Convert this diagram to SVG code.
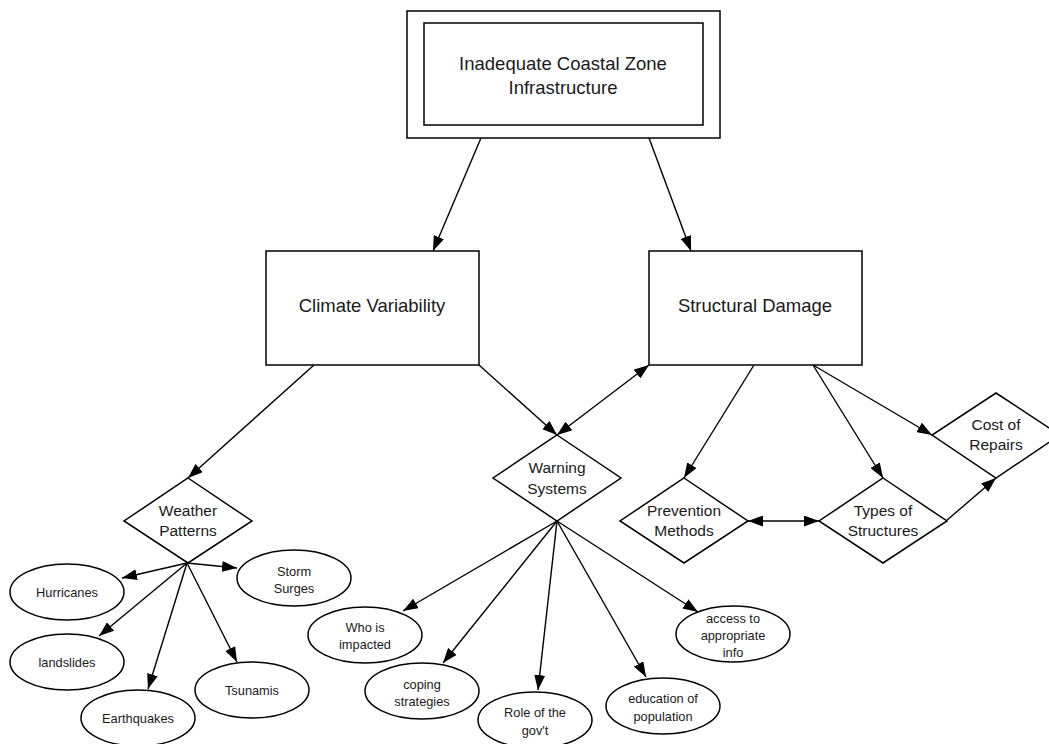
<svg xmlns="http://www.w3.org/2000/svg" width="1049" height="744" viewBox="0 0 1049 744">
<defs>
<style>
.shape{fill:#fff;stroke:#000;stroke-width:1.5}
.edge{fill:none;stroke:#000;stroke-width:1.4}
text{font-family:"Liberation Sans",Arial,sans-serif;fill:#1a1a1a;text-anchor:middle;dominant-baseline:central}
.big{font-size:18.5px}
.mid{font-size:15.5px}
.sm{font-size:12.8px}
</style>
<marker id="ah" viewBox="0 0 15 11" refX="15" refY="5.5" markerWidth="15" markerHeight="11" markerUnits="userSpaceOnUse" orient="auto-start-reverse">
<path d="M0,0 L15,5.5 L0,11 z" fill="#000"/>
</marker>
</defs>
<rect width="1049" height="744" fill="#fff"/>

<g id="connectors">
<line class="edge" x1="481" y1="138" x2="433" y2="251" marker-end="url(#ah)"/>
<line class="edge" x1="649" y1="138" x2="691" y2="251" marker-end="url(#ah)"/>
<line class="edge" x1="314" y1="365" x2="188" y2="478" marker-end="url(#ah)"/>
<line class="edge" x1="479" y1="365" x2="557" y2="435" marker-end="url(#ah)"/>
<line class="edge" x1="557" y1="435" x2="649" y2="365" marker-start="url(#ah)" marker-end="url(#ah)"/>
<line class="edge" x1="754" y1="365" x2="684" y2="478" marker-end="url(#ah)"/>
<line class="edge" x1="813" y1="365" x2="883" y2="478" marker-end="url(#ah)"/>
<line class="edge" x1="813" y1="365" x2="932" y2="435" marker-end="url(#ah)"/>
<line class="edge" x1="748" y1="521" x2="819" y2="521" marker-start="url(#ah)" marker-end="url(#ah)"/>
<line class="edge" x1="946" y1="521" x2="996" y2="478" marker-end="url(#ah)"/>
<line class="edge" x1="187" y1="563" x2="122" y2="578" marker-end="url(#ah)"/>
<line class="edge" x1="187" y1="563" x2="99" y2="636" marker-end="url(#ah)"/>
<line class="edge" x1="187" y1="563" x2="148" y2="689" marker-end="url(#ah)"/>
<line class="edge" x1="187" y1="563" x2="237" y2="662" marker-end="url(#ah)"/>
<line class="edge" x1="187" y1="563" x2="237" y2="568" marker-end="url(#ah)"/>
<line class="edge" x1="557" y1="521" x2="403" y2="611" marker-end="url(#ah)"/>
<line class="edge" x1="557" y1="521" x2="443" y2="663" marker-end="url(#ah)"/>
<line class="edge" x1="557" y1="521" x2="538" y2="690" marker-end="url(#ah)"/>
<line class="edge" x1="557" y1="521" x2="646" y2="677" marker-end="url(#ah)"/>
<line class="edge" x1="557" y1="521" x2="698" y2="612" marker-end="url(#ah)"/>
</g>

<g id="n-top">
<rect class="shape" x="407" y="11" width="313" height="127"/>
<rect class="shape" x="424" y="23" width="279" height="102"/>
<text class="big" x="563" y="63">Inadequate Coastal Zone</text>
<text class="big" x="563" y="87">Infrastructure</text>
</g>

<g id="n-climate">
<rect class="shape" x="266" y="251" width="213" height="114"/>
<text class="big" x="372" y="305">Climate Variability</text>
</g>

<g id="n-structural">
<rect class="shape" x="649" y="251" width="213" height="114"/>
<text class="big" x="755" y="305">Structural Damage</text>
</g>

<g id="n-weather">
<polygon class="shape" points="188,478 252,521 188,563 124,521"/>
<text class="mid" x="188" y="510">Weather</text>
<text class="mid" x="188" y="530">Patterns</text>
</g>

<g id="n-warning">
<polygon class="shape" points="557,435 621,478 557,521 493,478"/>
<text class="mid" x="557" y="467">Warning</text>
<text class="mid" x="557" y="488">Systems</text>
</g>

<g id="n-prevention">
<polygon class="shape" points="684,478 748,521 684,563 620,521"/>
<text class="mid" x="684" y="510">Prevention</text>
<text class="mid" x="684" y="530">Methods</text>
</g>

<g id="n-types">
<polygon class="shape" points="883,478 947,521 883,563 819,521"/>
<text class="mid" x="883" y="510">Types of</text>
<text class="mid" x="883" y="530">Structures</text>
</g>

<g id="n-cost">
<polygon class="shape" points="996,393 1060,435 996,478 932,435"/>
<text class="mid" x="996" y="424">Cost of</text>
<text class="mid" x="996" y="444">Repairs</text>
</g>

<g id="n-hurricanes">
<ellipse class="shape" cx="67" cy="592" rx="57" ry="28"/>
<text class="sm" x="67" y="592">Hurricanes</text>
</g>
<g id="n-landslides">
<ellipse class="shape" cx="67" cy="662" rx="57" ry="28"/>
<text class="sm" x="67" y="662">landslides</text>
</g>
<g id="n-earthquakes">
<ellipse class="shape" cx="138" cy="718" rx="57" ry="28"/>
<text class="sm" x="138" y="718">Earthquakes</text>
</g>
<g id="n-tsunamis">
<ellipse class="shape" cx="252" cy="690" rx="57" ry="28"/>
<text class="sm" x="252" y="690">Tsunamis</text>
</g>
<g id="n-storm">
<ellipse class="shape" cx="294" cy="578" rx="57" ry="28"/>
<text class="sm" x="294" y="571">Storm</text>
<text class="sm" x="294" y="588">Surges</text>
</g>

<g id="n-who">
<ellipse class="shape" cx="365" cy="635" rx="57" ry="28"/>
<text class="sm" x="365" y="627">Who is</text>
<text class="sm" x="365" y="644">impacted</text>
</g>
<g id="n-coping">
<ellipse class="shape" cx="422" cy="691" rx="57" ry="28"/>
<text class="sm" x="422" y="684">coping</text>
<text class="sm" x="422" y="701">strategies</text>
</g>
<g id="n-role">
<ellipse class="shape" cx="535" cy="720" rx="57" ry="28"/>
<text class="sm" x="535" y="712">Role of the</text>
<text class="sm" x="535" y="730">gov't</text>
</g>
<g id="n-education">
<ellipse class="shape" cx="663" cy="706" rx="57" ry="28"/>
<text class="sm" x="663" y="698">education of</text>
<text class="sm" x="663" y="716">population</text>
</g>
<g id="n-access">
<ellipse class="shape" cx="733" cy="634" rx="57" ry="28"/>
<text class="sm" x="733" y="618">access to</text>
<text class="sm" x="733" y="635">appropriate</text>
<text class="sm" x="733" y="652">info</text>
</g>
</svg>
